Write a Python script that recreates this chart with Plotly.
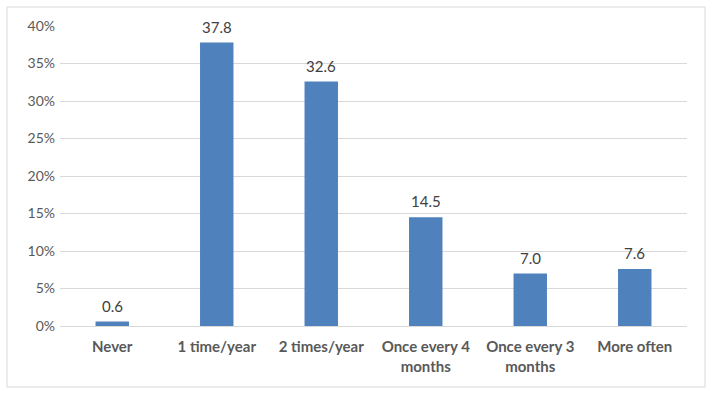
import plotly.graph_objects as go

categories = ["Never", "1 time/year", "2 times/year", "Once every 4<br>months", "Once every 3<br>months", "More often"]
values = [0.6, 37.8, 32.6, 14.5, 7.0, 7.6]
tick_vals = [0, 5, 10, 15, 20, 25, 30, 35, 40]
tick_text = [f"{v}%" for v in tick_vals]

W, H = 712, 394
ml, mr, mt, mb = 60, 25, 26, 68
pw, ph = W - ml - mr, H - mt - mb
FONT = "Lato, Liberation Sans, sans-serif"

fig = go.Figure(go.Bar(
    x=categories, y=values,
    marker=dict(color="#4F81BD", line=dict(width=0)),
))

for c, v in zip(categories, values):
    fig.add_annotation(
        x=c, y=v, text=f"{v:.1f}", showarrow=False,
        xref="x", yref="y", yanchor="bottom", yshift=5,
        font=dict(family=FONT, size=15, color="#404040"),
    )

def px_x(p):
    return (p - ml) / pw

def px_y(p):
    return (H - mb - p) / ph

fig.update_layout(
    width=W, height=H,
    margin=dict(l=ml, r=mr, t=mt, b=mb),
    paper_bgcolor="white", plot_bgcolor="white",
    bargap=0.68,
    showlegend=False,
    font=dict(family=FONT, size=13, color="#595959"),
    xaxis=dict(
        showgrid=False, showline=False, ticks="",
        ticklabelstandoff=10,
        tickfont=dict(family=FONT, size=15, color="#595959", weight="bold"),
    ),
    yaxis=dict(
        range=[0, 40], tickvals=tick_vals, ticktext=tick_text,
        showgrid=True, gridcolor="#D9D9D9", gridwidth=1,
        zeroline=True, zerolinecolor="#D9D9D9", zerolinewidth=1,
        showline=False, ticks="",
        ticklabelstandoff=4,
        tickfont=dict(family=FONT, size=14, color="#595959"),
    ),
    shapes=[dict(
        type="rect", xref="paper", yref="paper",
        x0=px_x(7), x1=px_x(705), y0=px_y(387), y1=px_y(7),
        line=dict(color="#D9D9D9", width=1), fillcolor="rgba(0,0,0,0)", layer="below",
    )],
)

fig.write_html("out.html")
